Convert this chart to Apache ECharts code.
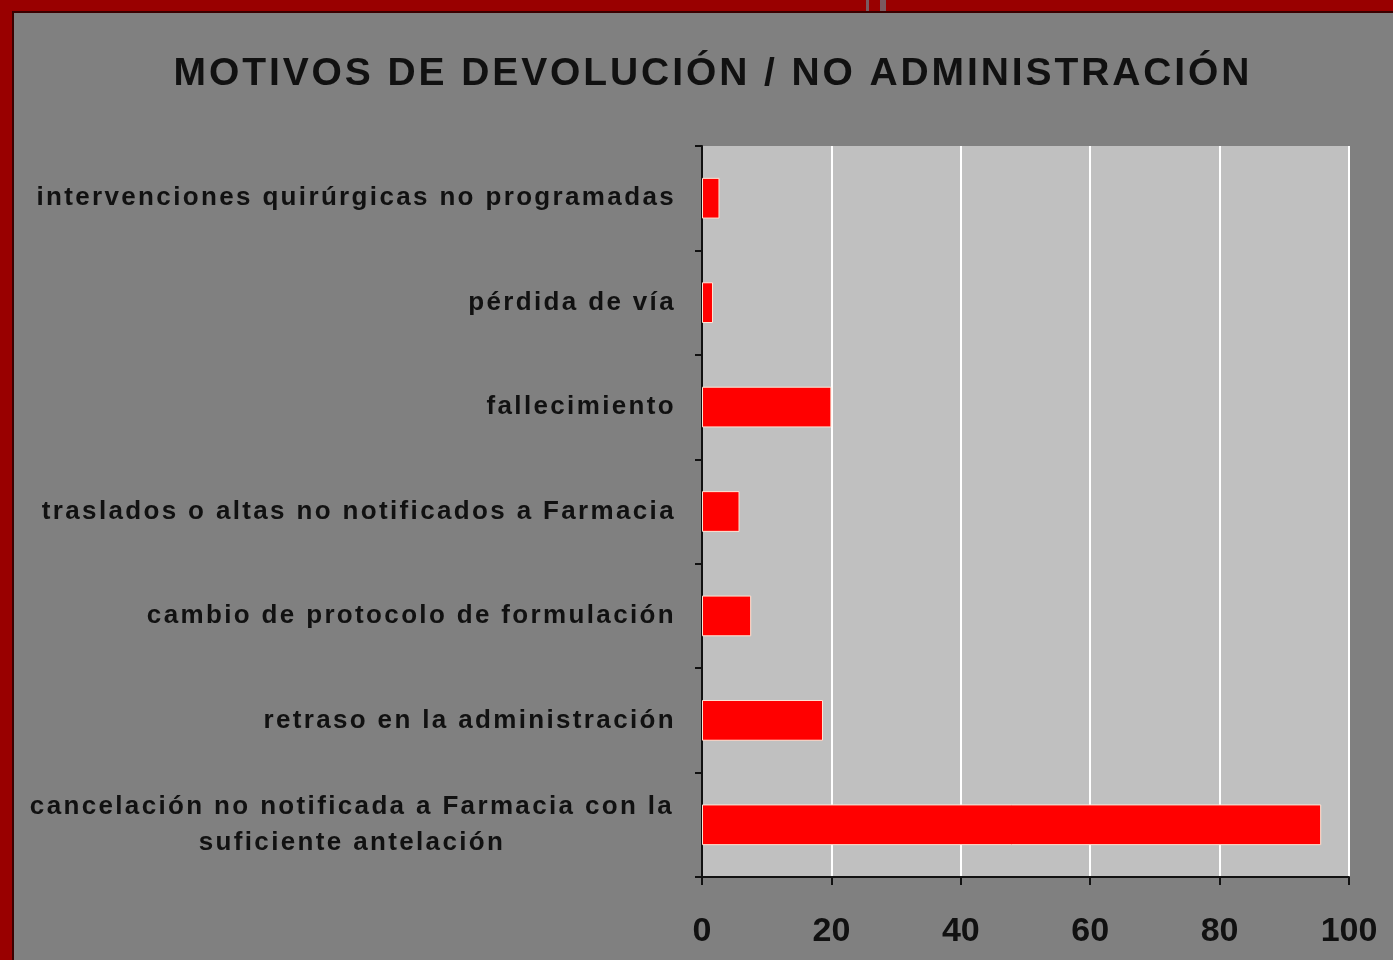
<!DOCTYPE html>
<html>
<head>
<meta charset="utf-8" />
<title>Motivos de devolución</title>
<script src="https://cdn.jsdelivr.net/npm/echarts@6/dist/echarts.min.js"></script>
<style>
  html, body { margin: 0; padding: 0; width: 1393px; height: 960px; background: #990000; overflow: hidden; }
  #frame { position: absolute; left: 12px; top: 11px; width: 1381px; height: 949px;
           border-left: 2px solid #3a0000; border-top: 2px solid #3a0000; background: #808080; }
  #chart { width: 1381px; height: 949px; }
  .nick { position: absolute; top: 0; height: 11px; background: #7a5a60; }
</style>
</head>
<body>
<div class="nick" style="left:866px;width:3px"></div>
<div class="nick" style="left:880px;width:6px"></div>
<div id="frame"><div id="chart"></div></div>
<script type="text/javascript">
// categories listed bottom -> top (category axis on y starts from bottom)
var categories = [
  'cancelación no notificada a Farmacia con la\nsuficiente antelación',
  'retraso en la administración',
  'cambio de protocolo de formulación',
  'traslados o altas no notificados a Farmacia',
  'fallecimiento',
  'pérdida de vía',
  'intervenciones quirúrgicas no programadas'
];
var values = [95.7, 18.7, 7.6, 5.8, 20, 1.7, 2.7];
var xTicks = [0, 20, 40, 60, 80, 100];

// spread the letters a bit, like the original office chart text
var _fillText = CanvasRenderingContext2D.prototype.fillText;
CanvasRenderingContext2D.prototype.fillText = function () {
  var f = this.font || '';
  if ('letterSpacing' in this) {
    if (f.indexOf('39px') >= 0) this.letterSpacing = '2.9px';
    else if (f.indexOf('26px') >= 0) this.letterSpacing = '2.35px';
    else this.letterSpacing = '0px';
  }
  return _fillText.apply(this, arguments);
};

var chart = echarts.init(document.getElementById('chart'));
var offX = 14, offY = 13; // frame offset inside the page

var option = {
  animation: false,
  backgroundColor: '#808080',
  textStyle: { fontFamily: 'Liberation Sans, Arial, sans-serif' },
  title: {
    text: 'MOTIVOS DE DEVOLUCIÓN / NO ADMINISTRACIÓN',
    left: 708 - offX, top: 69 - offY, textAlign: 'center', textVerticalAlign: 'middle',
    textStyle: { fontSize: 39, fontWeight: 'bold', color: '#111', fontFamily: 'Liberation Sans, Arial, sans-serif' }
  },
  grid: {
    left: 702 - offX, right: 1395 - 1349, top: 146 - offY, bottom: 962 - 877,
    show: true, backgroundColor: '#c0c0c0', borderWidth: 0
  },
  xAxis: {
    type: 'value', min: 0, max: 100, interval: 20,
    axisLine: { show: true, lineStyle: { color: '#111', width: 2 } },
    axisTick: { show: true, length: 8, lineStyle: { color: '#111', width: 2 } },
    splitLine: { show: true, lineStyle: { color: '#ffffff', width: 2 } },
    axisLabel: {
      margin: 38, fontSize: 34, fontWeight: 'bold', color: '#111',
      formatter: function (v) { return xTicks.indexOf(v) >= 0 ? String(v) : ''; }
    }
  },
  yAxis: {
    type: 'category', data: categories,
    axisLine: { show: true, lineStyle: { color: '#111', width: 2 } },
    axisTick: { show: true, length: 7, lineStyle: { color: '#111', width: 2 } },
    axisLabel: {
      margin: 26, fontSize: 26, fontWeight: 'bold', color: '#111', lineHeight: 36,
      formatter: function (v) {
        if (v.indexOf('\n') >= 0) {
          return v.split('\n').map(function (s) { return '{c|' + s + '}'; }).join('\n');
        }
        return v;
      },
      rich: {
        c: { width: 648, align: 'center', fontSize: 26, fontWeight: 'bold', color: '#111', lineHeight: 36 }
      }
    }
  },
  series: [{
    type: 'bar', data: values, barCategoryGap: '61%',
    itemStyle: { color: '#ff0000', borderColor: '#ffe6d6', borderWidth: 1 }
  }]
};
chart.setOption(option);
</script>
</body>
</html>
